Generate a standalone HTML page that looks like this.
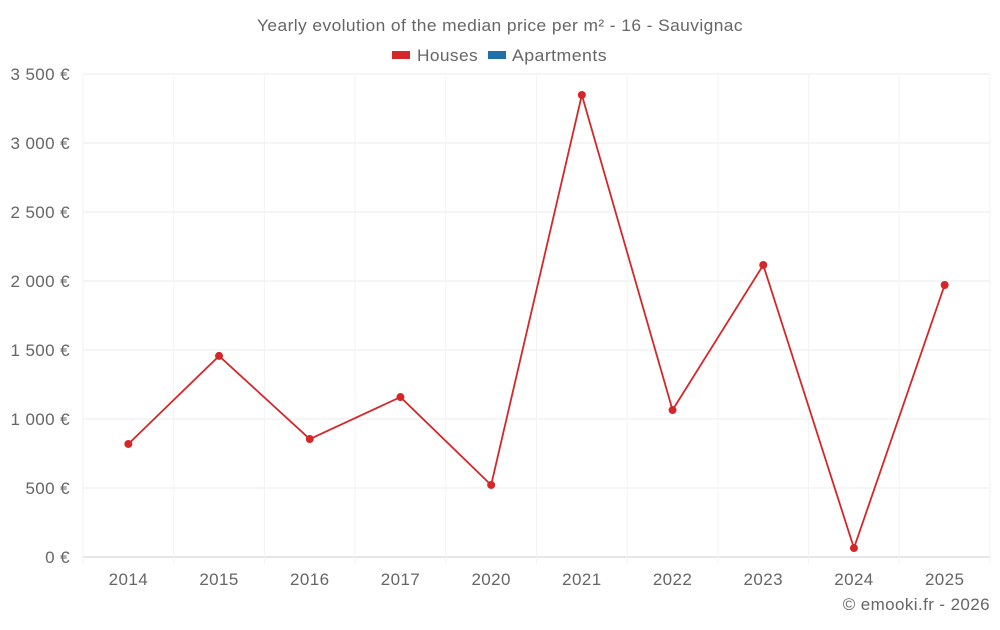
<!DOCTYPE html>
<html><head><meta charset="utf-8"><style>
body{margin:0;background:#fff;font-family:"Liberation Sans",sans-serif}
svg text{font-family:"Liberation Sans",sans-serif;fill:#666;font-size:17px;letter-spacing:0.4px}
</style></head><body>
<svg id="c" width="1000" height="625">
<text x="257" y="31" textLength="486" lengthAdjust="spacingAndGlyphs">Yearly evolution of the median price per m² - 16 - Sauvignac</text>
<g>
<rect x="392" y="51" width="18" height="8" fill="#d62728"/>
<text x="417" y="61" textLength="61" lengthAdjust="spacingAndGlyphs">Houses</text>
<rect x="488" y="51" width="18" height="8" fill="#1f6fa8"/>
<text x="512" y="61" textLength="95" lengthAdjust="spacingAndGlyphs">Apartments</text>
</g>
<g id="grid"></g><g id="axes"></g><g id="series"></g>
<text x="990" y="610" text-anchor="end">© emooki.fr - 2026</text>
</svg>
<script>
const categories=["2014","2015","2016","2017","2020","2021","2022","2023","2024","2025"];
const houses=[819,1457,855,1159,522,3348,1065,2116,65,1971];
const yTicks=[0,500,1000,1500,2000,2500,3000,3500];
const yTickLabels=["0 €","500 €","1 000 €","1 500 €","2 000 €","2 500 €","3 000 €","3 500 €"];
const L=83,R=990,T=74,B=557,yMax=3500;
const bw=(R-L)/categories.length;
const x=i=>L+bw*(i+0.5);
const y=v=>B-(v/yMax)*(B-T);
const NS="http://www.w3.org/2000/svg";
function mk(p,t,a){const e=document.createElementNS(NS,t);for(const k in a)e.setAttribute(k,a[k]);p.appendChild(e);return e;}
const g=document.getElementById('grid'),ax=document.getElementById('axes'),s=document.getElementById('series');
yTicks.forEach((v,i)=>{
 const l=mk(g,'line',{x1:L,x2:R,y1:y(v),y2:y(v),stroke:v===0?'#ccc':'#ebebeb'});
 
 
 const t=mk(ax,'text',{x:70,y:y(v)+6,'text-anchor':'end'});
 t.textContent=yTickLabels[i];
 
 
});
for(let i=0;i<=categories.length;i++){
 const xx=L+bw*i;
 const l=mk(g,'line',{x1:xx,x2:xx,y1:T,y2:B+8,stroke:'#f3f3f3'});
 
 
}
categories.forEach((c,i)=>{
 const t=mk(ax,'text',{x:x(i),y:585,'text-anchor':'middle'});
 t.textContent=c;
 
 
});
const pl=mk(s,'polyline',{points:houses.map((v,i)=>x(i)+','+y(v)).join(' '),fill:'none',stroke:'#d62728','stroke-width':1.8});


houses.forEach((v,i)=>{
 const c=mk(s,'circle',{cx:x(i),cy:y(v),r:4,fill:'#d62728'});
 
 
});
</script>
</body></html>
